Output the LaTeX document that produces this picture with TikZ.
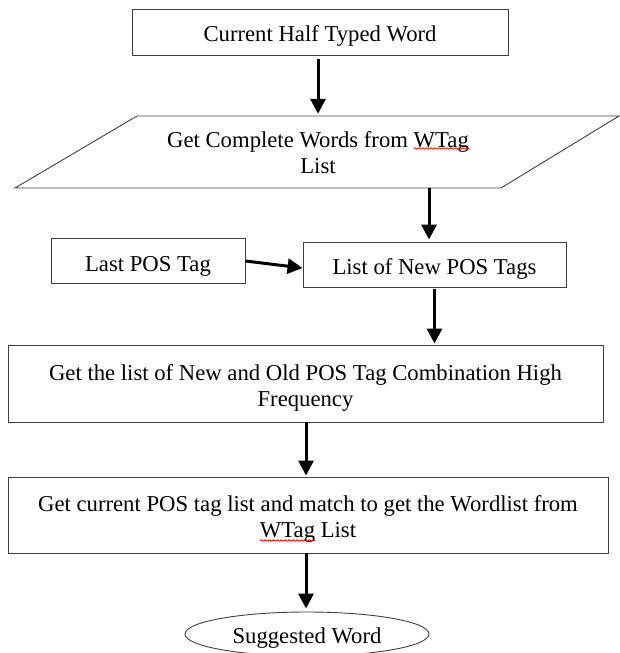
\documentclass[tikz,border=0pt]{standalone}
\usepackage{fontspec}
\setmainfont{Liberation Serif}
\usetikzlibrary{arrows.meta,shapes.geometric,decorations.pathmorphing}
\newlength\wlineA
\newlength\wword
\newlength\wlineB
\newcommand\boxstrut[1][24pt]{\rule{0pt}{#1}}
\begin{document}
\settowidth\wlineA{\fontsize{22.7}{26}\selectfont Get Complete Words from WTag}%
\settowidth\wword{\fontsize{22.7}{26}\selectfont WTag}%
\settowidth\wlineB{\fontsize{22.7}{26}\selectfont WTag List}%
\begin{tikzpicture}[x=1pt,y=-1pt,
  boxline/.style={draw=black!75,line width=0.9pt},
  txt/.style={font=\fontsize{22.7}{26}\selectfont},
  stepbox/.style={boxline,txt,rectangle,inner sep=0pt,align=center},
  plain/.style={txt,inner sep=0pt,align=center},
  flow/.style={line width=3pt,-{Triangle[length=15pt,width=15pt]}},
  squiggle/.style={draw=red!85!black,line width=0.8pt,decorate,decoration={snake,amplitude=0.7pt,segment length=4pt}}]
\useasboundingbox (0,0) rectangle (619,653);
\node[stepbox,minimum width=376pt,minimum height=46pt] (cur) at (320,32) {\boxstrut Current Half Typed Word};
\draw[boxline] (137,116) -- (619,116) -- (501,188) -- (15,188) -- cycle;
\node[plain,minimum width=360pt,minimum height=72pt] (get) at (318,153) {Get Complete Words from WTag\\List};
\node[stepbox,minimum width=194pt,minimum height=45pt] (last) at (148,260.5) {\boxstrut[27pt]Last POS Tag};
\node[stepbox,minimum width=263pt,minimum height=45pt] (list) at (434.5,264.5) {\boxstrut List of New POS Tags};
\node[stepbox,minimum width=595pt,minimum height=77pt] (comb) at (305.5,383.5) {\boxstrut Get the list of New and Old POS Tag Combination High\\Frequency};
\node[stepbox,minimum width=600pt,minimum height=76pt] (match) at (308,515) {\boxstrut Get current POS tag list and match to get the Wordlist from\\WTag List};
\node[boxline,txt,ellipse,inner sep=0pt,minimum width=244pt,minimum height=44pt] (sugg) at (307,634) {\boxstrut Suggested Word};
\draw[squiggle] ([xshift=0.5\wlineA-\wword,yshift=4.5pt]get.center) -- ([xshift=0.5\wlineA,yshift=4.5pt]get.center);
\draw[squiggle] ([xshift=-0.5\wlineB,yshift=-25.5pt]match.center) -- ([xshift=-0.5\wlineB+\wword,yshift=-25.5pt]match.center);
\draw[flow] ([yshift=-4pt]cur.south -| get.north) -- ([yshift=3pt]get.north);
\draw[flow] ([xshift=-5.5pt,yshift=1pt]list.north |- get.south) -- ([xshift=-5.5pt,yshift=2pt]list.north);
\draw[flow] ([yshift=-0.5pt]last.east) -- ([yshift=-3.5pt]list.west);
\draw[flow] ([yshift=-2pt]list.south) -- ([yshift=1pt]list.south |- comb.north);
\draw[flow] (comb.south -| 306,0) -- ([yshift=1pt]match.north -| 306,0);
\draw[flow] (match.south -| 306,0) -- ([yshift=3pt]sugg.north -| 306,0);
\end{tikzpicture}
\end{document}
